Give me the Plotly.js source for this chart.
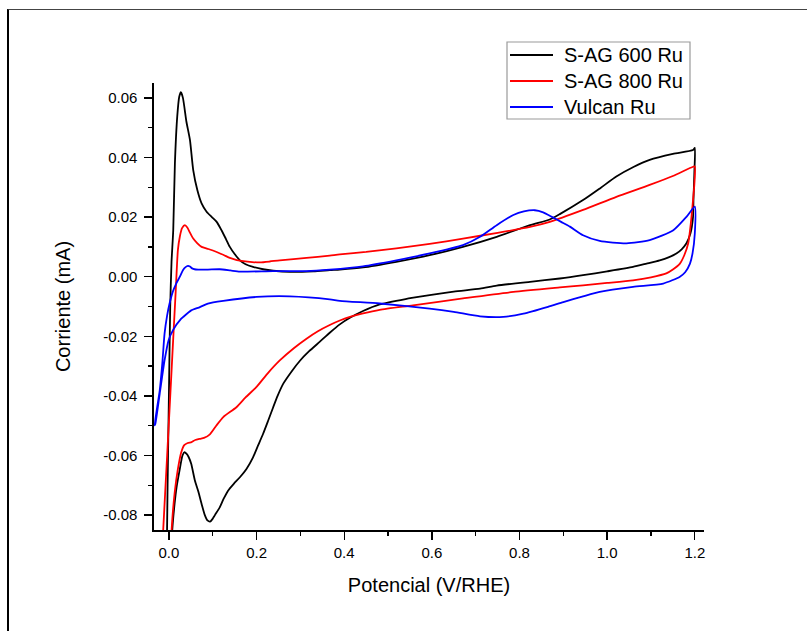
<!DOCTYPE html>
<html>
<head>
<meta charset="utf-8">
<script src="https://cdn.plot.ly/plotly-3.0.1.min.js"></script>
<style>
  html, body { margin: 0; padding: 0; background: #fff; }
  #wrap { position: relative; width: 807px; height: 631px; overflow: hidden; }
  #chart { position: absolute; left: 0; top: 0; width: 807px; height: 631px; }
  #frame { position: absolute; left: 7px; top: 9px; width: 900px; height: 700px;
           border-left: 2px solid #000; border-top: 1px solid #444; pointer-events: none; z-index: 5; }
</style>
</head>
<body>
<div id="wrap"><div id="chart"></div><div id="frame"></div></div>
<script>
// Series names
const seriesNames = ["S-AG 600 Ru", "S-AG 800 Ru", "Vulcan Ru"];

// S-AG 600 Ru (anodic sweep then cathodic sweep)
const blackX = [-0.005,-0.003,0.0,0.003,0.006,0.0099,0.0137,0.019,0.0236,0.0274,0.032,0.040,0.048,0.0555,0.065,0.0746,0.086,0.098,0.109,0.120,0.130,0.139,0.150,0.162,0.175,0.192,0.215,0.238,0.276,0.33,0.367,0.390,0.443,0.519,0.595,0.671,0.748,0.824,0.869,0.892,0.945,0.985,1.021,1.06,1.097,1.15,1.196,1.2,
  1.199,1.197,1.196,1.19,1.181,1.17,1.158,1.14,1.120,1.09,1.059,1.0,0.945,0.892,0.824,0.748,0.710,0.650,0.595,0.54,0.481,0.443,0.413,0.390,0.367,0.3445,0.320,0.299,0.280,0.261,0.248,0.238,0.226,0.215,0.203,0.192,0.177,0.162,0.148,0.135,0.125,0.116,0.105,0.100,0.094,0.088,0.082,0.075,0.067,0.0593,0.0509,0.045,0.040,0.0358,0.031,0.0243,0.0175,0.013,0.0076,0.005];
const blackY = [-0.095,-0.07,-0.04,-0.01,0.005,0.0156,0.038,0.0537,0.0604,0.0619,0.060,0.052,0.0459,0.0358,0.029,0.0246,0.0218,0.0200,0.0184,0.0156,0.0127,0.0100,0.0076,0.0055,0.0042,0.0033,0.0025,0.0020,0.0016,0.0018,0.0022,0.0024,0.0031,0.0050,0.0072,0.0100,0.0134,0.0173,0.0192,0.0210,0.0257,0.0298,0.0336,0.0368,0.0392,0.0412,0.0425,0.0432,
  0.035,0.026,0.0201,0.0145,0.0112,0.0092,0.0078,0.0065,0.0055,0.0044,0.0033,0.0018,0.0005,-0.0006,-0.0017,-0.0030,-0.0040,-0.0050,-0.0062,-0.0075,-0.0093,-0.0115,-0.0138,-0.0160,-0.0188,-0.0218,-0.0250,-0.0282,-0.0318,-0.0359,-0.0400,-0.0438,-0.0485,-0.0527,-0.0568,-0.0606,-0.0645,-0.0673,-0.0695,-0.0718,-0.0745,-0.0774,-0.0800,-0.0812,-0.0822,-0.0818,-0.0800,-0.0765,-0.0720,-0.0684,-0.0628,-0.0605,-0.0594,-0.0589,-0.0600,-0.0650,-0.0707,-0.0762,-0.0852,-0.095];

// S-AG 800 Ru
const redX = [-0.016,-0.0137,-0.004,0.0066,0.0155,0.0205,0.025,0.030,0.0365,0.042,0.048,0.0555,0.065,0.0746,0.090,0.109,0.125,0.139,0.155,0.170,0.19,0.208,0.230,0.253,0.314,0.367,0.390,0.45,0.519,0.595,0.671,0.75,0.824,0.869,0.945,1.021,1.097,1.15,1.196,1.2,
  1.199,1.196,1.191,1.185,1.176,1.166,1.150,1.135,1.10,1.059,1.0,0.945,0.892,0.786,0.671,0.557,0.481,0.443,0.415,0.390,0.367,0.340,0.314,0.285,0.253,0.225,0.200,0.175,0.154,0.124,0.108,0.0935,0.080,0.0707,0.060,0.0517,0.043,0.035,0.028,0.020,0.0135,0.009,0.0055,0.004];
const redY = [-0.095,-0.0869,-0.060,-0.030,-0.005,0.0089,0.0135,0.0163,0.0173,0.0165,0.0148,0.0128,0.0112,0.0100,0.0093,0.0083,0.0073,0.0063,0.0056,0.0052,0.0049,0.0048,0.0051,0.0055,0.0063,0.0071,0.0075,0.0083,0.0095,0.0110,0.0128,0.0147,0.0167,0.0184,0.0224,0.0268,0.0308,0.0338,0.0369,0.0370,
  0.031,0.0257,0.018,0.0112,0.0072,0.0044,0.0024,0.0011,-0.0002,-0.0012,-0.0021,-0.0029,-0.0036,-0.0051,-0.0073,-0.0096,-0.0111,-0.0123,-0.0134,-0.0147,-0.0162,-0.0183,-0.0208,-0.0240,-0.0281,-0.0325,-0.0370,-0.0405,-0.0438,-0.0471,-0.0500,-0.0529,-0.0541,-0.0544,-0.0548,-0.0555,-0.0558,-0.0565,-0.0590,-0.0650,-0.0720,-0.0790,-0.0869,-0.095];

// Vulcan Ru
const blueX = [-0.0327,-0.027,-0.021,-0.015,-0.0099,-0.004,0.0015,0.009,0.0167,0.025,0.032,0.038,0.0434,0.048,0.053,0.0586,0.0669,0.089,0.116,0.140,0.162,0.238,0.314,0.367,0.443,0.519,0.595,0.671,0.710,0.748,0.786,0.810,0.835,0.854,0.875,0.895,0.915,0.945,0.983,1.044,1.097,1.151,1.181,1.2,
  1.2,1.195,1.189,1.178,1.166,1.128,1.059,0.983,0.945,0.900,0.865,0.809,0.763,0.710,0.650,0.595,0.481,0.390,0.367,0.276,0.200,0.124,0.089,0.0707,0.0509,0.0327,0.0281,0.0091,-0.0007,-0.0099,-0.021,-0.031,-0.0327];
const blueY = [-0.0499,-0.044,-0.0382,-0.029,-0.0191,-0.013,-0.009,-0.005,-0.0023,0.0,0.0022,0.0032,0.0036,0.0034,0.0028,0.0025,0.0024,0.0024,0.0025,0.0021,0.0017,0.0019,0.0019,0.0024,0.0035,0.0055,0.0078,0.0106,0.0134,0.0173,0.0207,0.0219,0.0223,0.0216,0.0200,0.0184,0.0168,0.0139,0.0120,0.0112,0.0123,0.0156,0.0201,0.0235,
  0.0145,0.008,0.0044,0.0015,0.0,-0.0023,-0.0034,-0.0051,-0.0066,-0.0085,-0.0101,-0.0124,-0.0135,-0.0133,-0.0118,-0.0107,-0.0090,-0.0081,-0.0076,-0.0066,-0.0068,-0.0081,-0.0090,-0.0102,-0.0113,-0.0135,-0.0141,-0.0180,-0.0213,-0.0281,-0.0393,-0.0494,-0.0499];

// Axis ticks
const xTickVals = [0.0, 0.2, 0.4, 0.6, 0.8, 1.0, 1.2];
const xTickText = ["0.0", "0.2", "0.4", "0.6", "0.8", "1.0", "1.2"];
const xMinorVals = [0.1, 0.3, 0.5, 0.7, 0.9, 1.1];
const yTickVals = [-0.08, -0.06, -0.04, -0.02, 0.0, 0.02, 0.04, 0.06];
const yTickText = ["-0.08", "-0.06", "-0.04", "-0.02", "0.00", "0.02", "0.04", "0.06"];
const yMinorVals = [-0.07, -0.05, -0.03, -0.01, 0.01, 0.03, 0.05];

const colors = ["#000000", "#ff0000", "#0000ff"];
const FONT = "'Liberation Sans', Arial, sans-serif";

const traces = [
  {x: blackX, y: blackY, name: seriesNames[0]},
  {x: redX, y: redY, name: seriesNames[1]},
  {x: blueX, y: blueY, name: seriesNames[2]}
].map((t, i) => Object.assign(t, {
  type: "scatter", mode: "lines", showlegend: false,
  line: {color: colors[i], width: 1.8, shape: "spline", smoothing: 0.6}
}));

// Legend drawn in paper coordinates (box, line samples, labels)
const plotL = 154, plotR = 704, plotT = 83, plotB = 530;
const px = v => (v - plotL) / (plotR - plotL);
const py = v => (plotB - v) / (plotB - plotT);
const legRows = [55, 81, 107];
const shapes = [{
  type: "rect", xref: "paper", yref: "paper",
  x0: px(507), x1: px(690), y0: py(42), y1: py(119),
  line: {color: "#9a9a9a", width: 1.2}, fillcolor: "#fff", layer: "above"
}];
const annotations = [];
seriesNames.forEach((n, i) => {
  shapes.push({type: "line", xref: "paper", yref: "paper",
    x0: px(510), x1: px(553), y0: py(legRows[i]), y1: py(legRows[i]),
    line: {color: colors[i], width: 2}, layer: "above"});
  annotations.push({xref: "paper", yref: "paper", x: px(562), y: py(legRows[i]),
    xanchor: "left", yanchor: "middle", showarrow: false, text: n,
    font: {family: FONT, size: 20, color: "#000"}});
});

const axisCommon = {
  showline: true, linecolor: "#000", linewidth: 1.6, mirror: false,
  showgrid: false, zeroline: false,
  ticks: "outside", ticklen: 8, tickwidth: 1.4, tickcolor: "#000",
  tickfont: {family: FONT, size: 15, color: "#000"},
  tickmode: "array"
};

const layout = {
  width: 807, height: 631,
  margin: {l: 154, r: 103, t: 83, b: 101},
  paper_bgcolor: "#fff", plot_bgcolor: "#fff",
  font: {family: FONT, color: "#000"},
  showlegend: false,
  shapes: shapes,
  annotations: annotations,
  xaxis: Object.assign({}, axisCommon, {
    range: [-0.034, 1.221],
    tickvals: xTickVals, ticktext: xTickText,
    minor: {tickmode: "array", tickvals: xMinorVals, ticks: "outside", ticklen: 4, tickwidth: 1.4, tickcolor: "#000", showgrid: false},
    title: {text: "Potencial (V/RHE)", font: {family: FONT, size: 20, color: "#000"}, standoff: 18}
  }),
  yaxis: Object.assign({}, axisCommon, {
    range: [-0.085, 0.065],
    tickvals: yTickVals, ticktext: yTickText,
    minor: {tickmode: "array", tickvals: yMinorVals, ticks: "outside", ticklen: 4, tickwidth: 1.4, tickcolor: "#000", showgrid: false},
    ticklabelstandoff: 4,
    title: {text: "Corriente (mA)", font: {family: FONT, size: 20, color: "#000"}, standoff: 27}
  })
};

Plotly.newPlot("chart", traces, layout, {staticPlot: true, displayModeBar: false});
</script>
</body>
</html>
